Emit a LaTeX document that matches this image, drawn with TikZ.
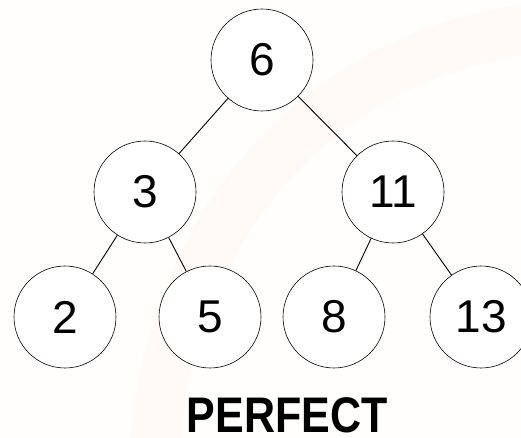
\documentclass[tikz,border=0pt]{standalone}
\usepackage{fontspec}
\setmainfont{Liberation Sans}
\tikzset{
  vertex/.style={circle, draw, fill=white, minimum size=102pt, inner sep=0pt, line width=0.6pt,
    font=\fontsize{46}{46}\selectfont},
  edge/.style={line width=0.9pt},
}
\begin{document}
\begin{tikzpicture}[x=1pt,y=1pt]
			\useasboundingbox (0,0) rectangle (521,438);
			\clip (0,0) rectangle (521,438);
			\fill[orange!1!white] (0,0) rectangle (521,438);
			\draw[orange!4!white, line width=50pt] (155,-10) .. controls (170,220) and (330,390) .. (540,410);
			% the tree
			\node[vertex] (n6) at (262,378) {6};
			\node[vertex] (n3) at (145,246) {3};
			\node[vertex] (n11) at (393,246) {11};
			\node[vertex] (n2) at (65,121) {2};
			\node[vertex] (n5) at (210,121) {5};
			\node[vertex] (n8) at (334,121) {8};
			\node[vertex] (n13) at (481,121) {13};
			\draw[edge] (n6) -- (n3);
			\draw[edge] (n6) -- (n11);
			\draw[edge] (n3) -- (n2);
			\draw[edge] (n3) -- (n5);
			\draw[edge] (n11) -- (n8);
			\draw[edge] (n11) -- (n13);
			\node[anchor=base, inner sep=0pt, xscale=0.86, font=\bfseries\fontsize{50}{50}\selectfont] (title) at (287,5) {PERFECT};
		\end{tikzpicture}
\end{document}
